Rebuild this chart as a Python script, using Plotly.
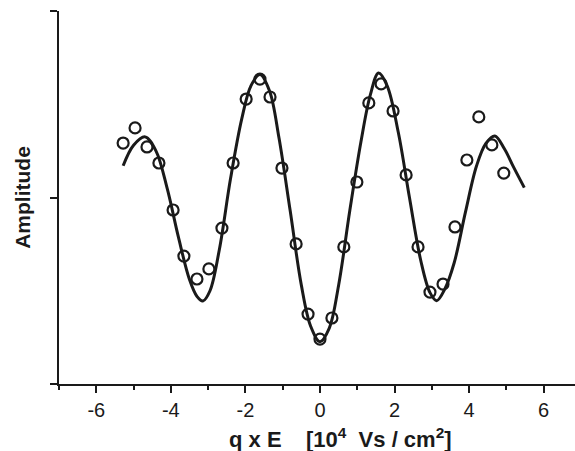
import plotly.graph_objects as go

# Measured data points (open circles)
data_x = [-5.28, -4.96, -4.64, -4.32, -3.94, -3.65, -3.30, -2.98, -2.63, -2.33,
          -1.98, -1.61, -1.34, -1.02, -0.64, -0.32, 0.00, 0.32, 0.64, 0.99,
          1.31, 1.64, 1.96, 2.31, 2.63, 2.95, 3.30, 3.62, 3.94, 4.26, 4.61, 4.93]
data_y = [1.292, 1.373, 1.271, 1.185, 0.933, 0.686, 0.563, 0.617, 0.836, 1.185,
          1.528, 1.635, 1.539, 1.158, 0.751, 0.375, 0.241, 0.354, 0.735, 1.083,
          1.507, 1.609, 1.464, 1.121, 0.735, 0.493, 0.536, 0.842, 1.201, 1.432, 1.282, 1.131]

# Fitted curve
fit_x = [-5.28, -5.0, -4.69, -4.4, -4.1, -3.8, -3.5, -3.3, -3.14, -2.95, -2.7, -2.4,
         -2.1, -1.85, -1.61, -1.35, -1.1, -0.8, -0.5, -0.25, 0.0, 0.25, 0.5, 0.8,
         1.1, 1.35, 1.57, 1.8, 2.1, 2.4, 2.7, 2.95, 3.13, 3.35, 3.6, 3.9, 4.2,
         4.45, 4.69, 4.95, 5.2, 5.48]
fit_y = [1.17, 1.28, 1.325, 1.25, 1.05, 0.79, 0.56, 0.47, 0.445, 0.50, 0.72, 1.10,
         1.42, 1.60, 1.66, 1.57, 1.32, 0.93, 0.53, 0.31, 0.227, 0.30, 0.53, 0.93,
         1.30, 1.55, 1.667, 1.60, 1.35, 1.00, 0.665, 0.49, 0.447, 0.51, 0.65, 0.92, 1.17,
         1.29, 1.33, 1.26, 1.16, 1.053]

x_ticks = [-6, -4, -2, 0, 2, 4, 6]
x_tick_labels = ["-6", "-4", "-2", "0", "2", "4", "6"]
y_ticks = [0, 1, 2]

INK = "#1a1a1a"
FONT = "Liberation Sans, Arial, sans-serif"

fig = go.Figure()
fig.add_trace(go.Scatter(
    x=fit_x, y=fit_y, mode="lines",
    line=dict(color=INK, width=3, shape="spline", smoothing=1.0),
    hoverinfo="skip", showlegend=False))
fig.add_trace(go.Scatter(
    x=data_x, y=data_y, mode="markers",
    marker=dict(symbol="circle-open", size=11, color=INK, line=dict(width=2.2, color=INK)),
    showlegend=False))

fig.update_layout(
    width=575, height=451,
    margin=dict(l=59, r=0, t=11, b=67),
    paper_bgcolor="white", plot_bgcolor="white",
    font=dict(family=FONT, color=INK),
    xaxis=dict(
        range=[-7, 6.84], showgrid=False, zeroline=False,
        showline=True, linecolor=INK, linewidth=2,
        tickmode="array", tickvals=x_ticks, ticktext=x_tick_labels,
        ticks="outside", ticklen=7, tickwidth=2, tickcolor=INK,
        tickfont=dict(size=20, family=FONT, color=INK),
        minor=dict(dtick=1, tick0=-7, ticks="outside", ticklen=4, tickwidth=2, tickcolor=INK),
    ),
    yaxis=dict(
        range=[0, 2], showgrid=False, zeroline=False,
        showline=True, linecolor=INK, linewidth=2,
        tickmode="array", tickvals=y_ticks, showticklabels=False,
        ticks="outside", ticklen=7, tickwidth=2, tickcolor=INK,
        title=dict(text="<b>Amplitude</b>", font=dict(size=21, family=FONT, color=INK), standoff=14),
    ),
    annotations=[dict(
        text="<b>q x E\u00a0\u00a0\u00a0 [10<sup>4</sup>\u00a0 Vs / cm<sup>2</sup>]</b>",
        xref="paper", yref="paper", x=0.545, y=-0.145,
        xanchor="center", yanchor="middle", showarrow=False,
        font=dict(size=22, family=FONT, color=INK),
    )],
)

fig.write_html("out.html")
